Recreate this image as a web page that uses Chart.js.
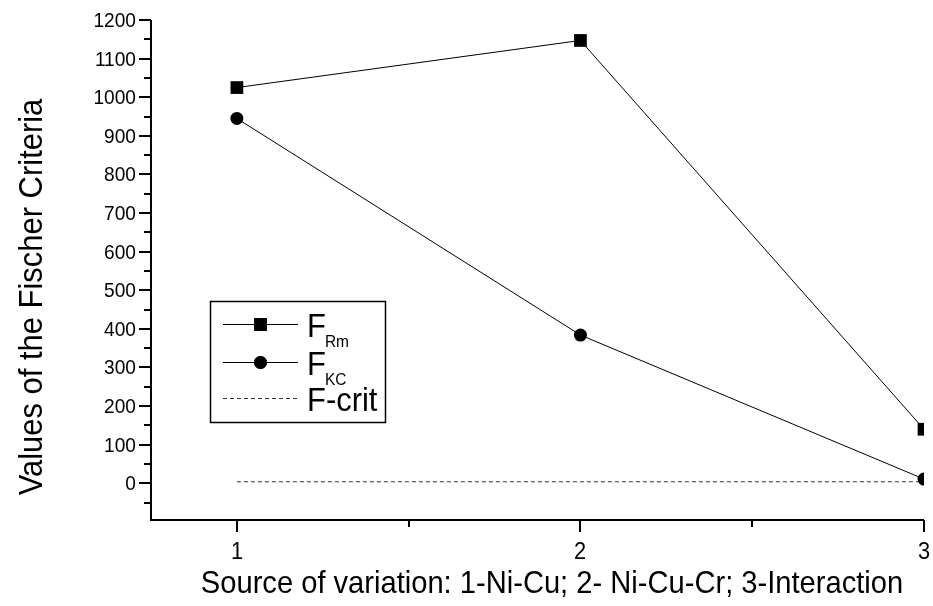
<!DOCTYPE html>
<html>
<head>
<meta charset="utf-8">
<script src="https://cdn.jsdelivr.net/npm/chart.js@4/dist/chart.umd.min.js"></script>
<style>
html,body{margin:0;padding:0;background:#fff;}
#wrap{width:933px;height:606px;position:relative;}
</style>
</head>
<body>
<div id="wrap"><canvas id="c" width="933" height="606"></canvas></div>
<script>
// ---- data ----
const categories = [1, 2, 3];
const fRmValues = [1025, 1147, 140];
const fKcValues = [945, 384, 11];
const fCritValues = [4, 4, 4];
const yMajorTicks = [0, 100, 200, 300, 400, 500, 600, 700, 800, 900, 1000, 1100, 1200];
const yMinorTicks = [-50, 50, 150, 250, 350, 450, 550, 650, 750, 850, 950, 1050, 1150];
const xMajorTicks = [1, 2, 3];
const xMinorTicks = [1.5, 2.5];
const yTitle = 'Values of the Fischer Criteria';
const xTitle = 'Source of variation: 1-Ni-Cu; 2- Ni-Cu-Cr; 3-Interaction';
const legendItems = [
  {main: 'F', sub: 'Rm'},
  {main: 'F', sub: 'KC'},
  {main: 'F-crit', sub: ''}
];

const FONT = "'Liberation Sans', Arial, sans-serif";
const HS = 0.91; // horizontal condensation of the original lettering
const toPts = vals => categories.map((x, i) => ({x: x, y: vals[i]}));

function txt(ctx, s, x, y, size, align, baseline) {
  ctx.save();
  ctx.font = size + 'px ' + FONT;
  ctx.textAlign = align;
  ctx.textBaseline = baseline;
  ctx.translate(x, y);
  ctx.scale(HS, 1);
  ctx.fillText(s, 0, 0);
  const w = ctx.measureText(s).width * HS;
  ctx.restore();
  return w;
}

const axesPlugin = {
  id: 'axesDecor',
  afterDraw(chart) {
    const ctx = chart.ctx;
    const xs = chart.scales.x, ys = chart.scales.y;
    const ca = chart.chartArea;
    ctx.save();
    ctx.strokeStyle = '#000';
    ctx.fillStyle = '#000';
    ctx.lineWidth = 2;
    ctx.beginPath();
    ctx.moveTo(ca.left, ca.top);
    ctx.lineTo(ca.left, ca.bottom);
    ctx.lineTo(ca.right, ca.bottom);
    ctx.stroke();
    yMajorTicks.forEach(v => {
      const py = Math.round(ys.getPixelForValue(v));
      ctx.beginPath(); ctx.moveTo(ca.left - 12, py); ctx.lineTo(ca.left, py); ctx.stroke();
      txt(ctx, String(v), ca.left - 15, py + 1, 21, 'right', 'middle');
    });
    yMinorTicks.forEach(v => {
      const py = Math.round(ys.getPixelForValue(v));
      ctx.beginPath(); ctx.moveTo(ca.left - 7, py); ctx.lineTo(ca.left, py); ctx.stroke();
    });
    xMajorTicks.forEach(v => {
      const px = Math.round(xs.getPixelForValue(v));
      ctx.beginPath(); ctx.moveTo(px, ca.bottom); ctx.lineTo(px, ca.bottom + 12); ctx.stroke();
      txt(ctx, String(v), px, ca.bottom + 39, 24, 'center', 'alphabetic');
    });
    xMinorTicks.forEach(v => {
      const px = Math.round(xs.getPixelForValue(v));
      ctx.beginPath(); ctx.moveTo(px, ca.bottom); ctx.lineTo(px, ca.bottom + 7); ctx.stroke();
    });
    // axis titles
    txt(ctx, xTitle, 552, 593, 32, 'center', 'alphabetic');
    ctx.save();
    ctx.translate(42, 297);
    ctx.rotate(-Math.PI / 2);
    txt(ctx, yTitle, 0, 0, 34, 'center', 'alphabetic');
    ctx.restore();

    // legend
    ctx.lineWidth = 1.5;
    ctx.strokeRect(210.5, 301.5, 175, 121);
    const rows = [324, 362, 398];
    chart.data.datasets.forEach((ds, i) => {
      const y = rows[i];
      ctx.save();
      ctx.strokeStyle = ds.borderColor;
      ctx.lineWidth = ds.borderWidth;
      ctx.setLineDash(ds.borderDash || []);
      ctx.beginPath(); ctx.moveTo(223, y + 0.5); ctx.lineTo(298, y + 0.5); ctx.stroke();
      ctx.restore();
      if (ds.pointRadius > 0) {
        ctx.fillStyle = '#000';
        Chart.helpers.drawPoint(ctx, {pointStyle: ds.pointStyle, radius: ds.pointRadius, borderWidth: 0, rotation: 0}, 260.5, y + 0.5);
        ctx.fill();
      }
      const it = legendItems[i];
      ctx.fillStyle = '#000';
      const w = txt(ctx, it.main, 307, y + 12.5, 34, 'left', 'alphabetic');
      if (it.sub) {
        txt(ctx, it.sub, 307 + w - 1, y + 23, 17, 'left', 'alphabetic');
      }
    });
    ctx.restore();
  }
};

new Chart(document.getElementById('c'), {
  type: 'line',
  data: {
    datasets: [
      {label: 'F_Rm', data: toPts(fRmValues), borderColor: '#000', backgroundColor: '#000',
       borderWidth: 1, pointStyle: 'rect', pointRadius: 9, pointBorderWidth: 0, pointBackgroundColor: '#000'},
      {label: 'F_KC', data: toPts(fKcValues), borderColor: '#000', backgroundColor: '#000',
       borderWidth: 1, pointStyle: 'circle', pointRadius: 6.5, pointBorderWidth: 0, pointBackgroundColor: '#000'},
      {label: 'F-crit', data: toPts(fCritValues), borderColor: '#333', backgroundColor: '#333',
       borderWidth: 1, borderDash: [4, 3], pointRadius: 0}
    ]
  },
  options: {
    responsive: false,
    animation: false,
    events: [],
    layout: {padding: {top: 20, right: 7, left: 0, bottom: 0}},
    plugins: {legend: {display: false}, tooltip: {enabled: false}},
    scales: {
      x: {
        type: 'linear', min: 0.75, max: 3,
        grid: {display: false, drawTicks: false}, border: {display: false},
        ticks: {display: false},
        afterFit(s) { s.height = 86; }
      },
      y: {
        type: 'linear', min: -95, max: 1200,
        grid: {display: false, drawTicks: false}, border: {display: false},
        ticks: {display: false},
        afterFit(s) { s.width = 151; }
      }
    }
  },
  plugins: [axesPlugin]
});
</script>
</body>
</html>
